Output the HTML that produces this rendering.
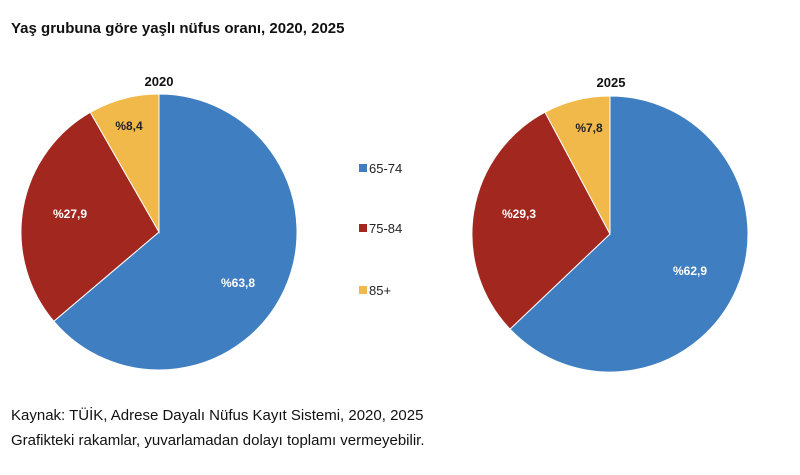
<!DOCTYPE html>
<html><head><meta charset="utf-8"><style>
body{margin:0;background:#fff;width:800px;height:470px;overflow:hidden;font-family:"Liberation Sans",sans-serif}
</style></head><body>
<svg width="800" height="470" xmlns="http://www.w3.org/2000/svg" font-family="Liberation Sans, sans-serif">
<text x="11" y="33" font-size="15" font-weight="bold" fill="#111">Yaş grubuna göre yaşlı nüfus oranı, 2020, 2025</text>
<text x="159" y="86" font-size="13" font-weight="bold" text-anchor="middle" fill="#111">2020</text>
<text x="611" y="87" font-size="13" font-weight="bold" text-anchor="middle" fill="#111">2025</text>
<g stroke="#fff" stroke-width="1">
<path d="M159,232 L159,94 A138,138 0 1 1 53.8,321.3 Z" fill="#3f7fc1"/>
<path d="M159,232 L53.8,321.3 A138,138 0 0 1 90.3,112.3 Z" fill="#a2271f"/>
<path d="M159,232 L90.3,112.3 A138,138 0 0 1 159,94 Z" fill="#f0b94a"/>
<path d="M610,234 L610,96 A138,138 0 1 1 510,329.1 Z" fill="#3f7fc1"/>
<path d="M610,234 L510,329.1 A138,138 0 0 1 545,112.2 Z" fill="#a2271f"/>
<path d="M610,234 L545,112.2 A138,138 0 0 1 610,96 Z" fill="#f0b94a"/>
</g>
<g font-size="12" font-weight="bold" text-anchor="middle">
<text x="129" y="130" fill="#222">%8,4</text>
<text x="70" y="218" fill="#fff">%27,9</text>
<text x="238" y="287" fill="#fff">%63,8</text>
<text x="589" y="132" fill="#222">%7,8</text>
<text x="519" y="218" fill="#fff">%29,3</text>
<text x="690" y="275" fill="#fff">%62,9</text>
</g>
<rect x="359" y="164" width="8" height="8" fill="#3f7fc1"/>
<rect x="359" y="224" width="8" height="8" fill="#a2271f"/>
<rect x="359" y="286" width="8" height="8" fill="#f0b94a"/>
<g font-size="13" fill="#222">
<text x="369" y="173">65-74</text>
<text x="369" y="233">75-84</text>
<text x="369" y="295">85+</text>
</g>
<text x="11" y="420" font-size="15" fill="#111">Kaynak: TÜİK, Adrese Dayalı Nüfus Kayıt Sistemi, 2020, 2025</text>
<text x="11" y="445" font-size="15" fill="#111">Grafikteki rakamlar, yuvarlamadan dolayı toplamı vermeyebilir.</text>
</svg>
</body></html>
